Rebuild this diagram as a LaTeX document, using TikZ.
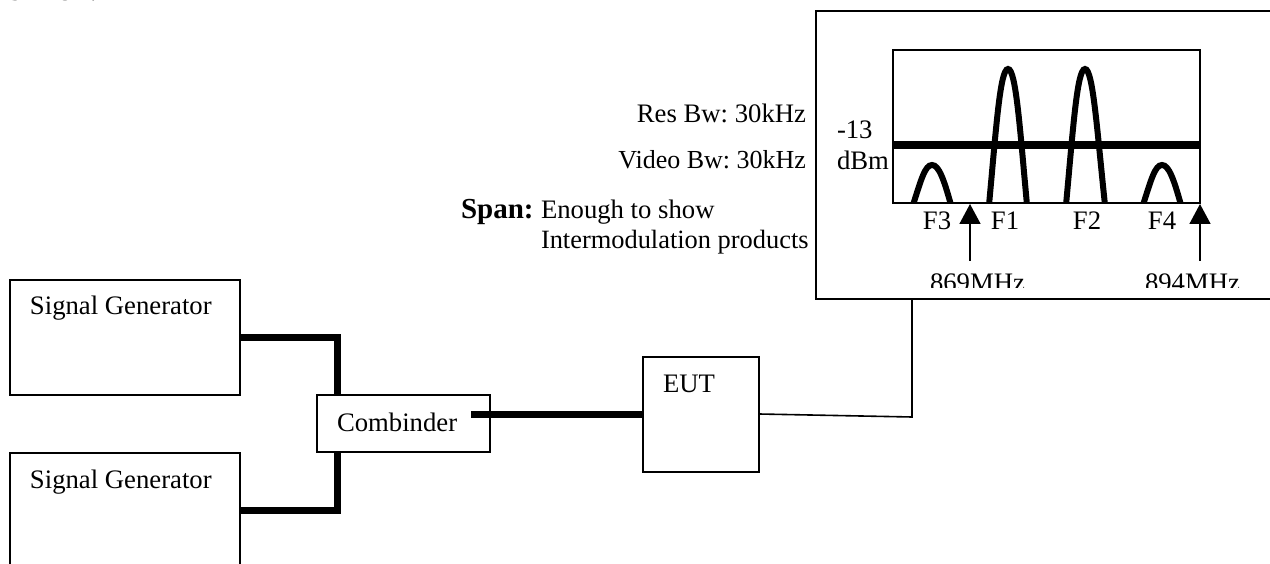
\documentclass[tikz,border=0pt]{standalone}
\usepackage{fontspec}
\setmainfont{Liberation Serif}
\usetikzlibrary{arrows.meta}
\tikzset{
  box/.style={draw=black,line width=1.6pt,fill=white,rectangle,inner sep=0pt,outer sep=0pt,anchor=north west},
  lbl/.style={inner sep=0pt,outer sep=0pt,anchor=base west,font=\fontsize{26.7}{26.7}\selectfont\frenchspacing,text=black},
  lblr/.style={lbl,anchor=base east},
  lblc/.style={lbl,anchor=base},
  thick wire/.style={line width=7pt,line join=miter},
  thin wire/.style={line width=1.6pt},
  peak/.style={line width=6pt},
  pointer/.style={line width=1.6pt,-{Triangle[length=20pt,width=21pt]}},
}
\begin{document}
\begin{tikzpicture}[x=1pt,y=-1pt]
\useasboundingbox (0,0) rectangle (1270,564);
\clip (0,0) rectangle (1270,564);
% clipped heading
\begin{scope}
\clip (0,0) rectangle (1270,4);
\node[lbl] (setup) at (8,1) {SETUP:};
\end{scope}
% boxes
\node[box,minimum width=230pt,minimum height=115pt] (sg1) at (10,280) {};
\node[box,minimum width=230pt,minimum height=140pt] (sg2) at (10,453) {};
\node[box,minimum width=116pt,minimum height=115pt] (eut) at (643,357) {};
\node[box,minimum width=480pt,minimum height=288pt] (sa) at (816,11) {};
% wires
\coordinate (c1) at (337,337);
\coordinate (c2) at (337,510);
\coordinate (c3) at (471,414);
\coordinate (e1) at (759,414);
\coordinate (c4) at (912,417);
\coordinate (c5) at (912,299);
\coordinate (ctop) at (337,395);
\coordinate (cbot) at (337,452);
\coordinate (eutin) at (643,414);
\draw[thick wire] (240,337) -- (c1) -- (ctop);
\draw[thick wire] (240,510) -- (c2) -- (cbot);
\node[box,minimum width=173pt,minimum height=57pt] (comb) at (317,395) {};
\draw[thick wire] (c3) -- (eutin);
\draw[thin wire] (e1) -- (c4) -- (c5);
% screen
\node[box,minimum width=307pt,minimum height=153pt] (scr) at (893,50) {};
\draw[line width=7.5pt] (scr.west |- 0,145) coordinate (t1) -- (scr.east |- 0,145) coordinate (t2);
\begin{scope}
\clip (893,50) rectangle (1200,203);
\draw[peak] (989,205) .. controls (996,130) and (1000,69) .. (1008,69) .. controls (1016,69) and (1020,130) .. (1027,205);
\draw[peak] (1066,205) .. controls (1073,130) and (1077,69) .. (1085,69) .. controls (1093,69) and (1097,130) .. (1105,205);
\draw[peak] (913,205) .. controls (921,180) and (925,165) .. (932,165) .. controls (939,165) and (944,180) .. (951,205);
\draw[peak] (1143,205) .. controls (1151,180) and (1155,165) .. (1162,165) .. controls (1169,165) and (1174,180) .. (1181,205);
\end{scope}
\draw[line width=1.6pt] (scr.south west) -- (scr.south east);
% pointers
\coordinate (p1a) at (970,261); \coordinate (p1b) at (970,204);
\coordinate (p2a) at (1200,261); \coordinate (p2b) at (1200,204);
\draw[pointer] (p1a) -- (p1b);
\draw[pointer] (p2a) -- (p2b);
% texts
\node[lbl] (t-sg1) at (30,315) {Signal Generator};
\node[lbl] (t-sg2) at (30,488) {Signal Generator};
\node[lbl] (t-comb) at (337,431) {Combinder};
\node[lbl] (t-eut) at (663,392) {EUT};
\node[lblr] (t-res) at (806,122.5) {Res Bw: 30kHz};
\node[lblr,font=\fontsize{26}{26}\selectfont\frenchspacing] (t-vid) at (806,169) {Video Bw: 30kHz};
\node[lbl,font=\fontsize{29}{29}\selectfont] (t-span) at (461,219) {\textbf{Span:}};
\node[lbl] (t-enough) at (541,219) {Enough to show};
\node[lbl,font=\fontsize{26.4}{26.4}\selectfont] (t-inter) at (541,249) {Intermodulation products};
\node[lbl] (t-13) at (837,139) {-13};
\node[lbl] (t-dbm) at (837,170) {dBm};
\node[lblc] (t-f3) at (937,230) {F3};
\node[lblc] (t-f1) at (1005,230) {F1};
\node[lblc] (t-f2) at (1087,230) {F2};
\node[lblc] (t-f4) at (1162,230) {F4};
\begin{scope}
\clip (900,262) rectangle (1270,288);
\node[lbl] (t-869) at (930,291) {869MHz};
\node[lbl] (t-894) at (1145,291) {894MHz};
\end{scope}
\end{tikzpicture}
\end{document}
